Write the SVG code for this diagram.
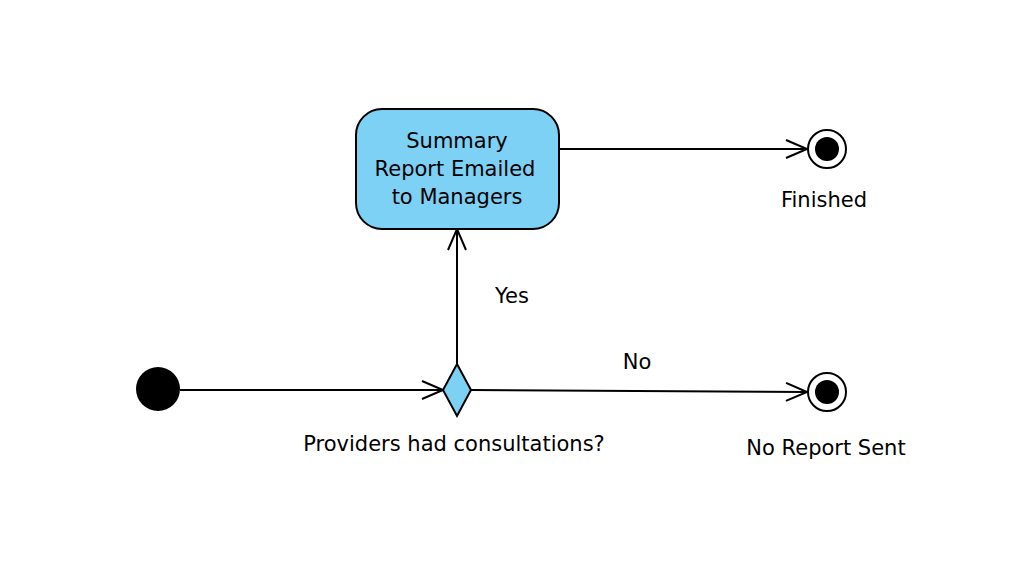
<svg xmlns="http://www.w3.org/2000/svg" width="1030" height="574" viewBox="0 0 1030 574">
<style>
  .lbl { font-family: "DejaVu Sans", "Liberation Sans", sans-serif; font-size: 21px; fill: #000; }
  .edge { stroke: #000; stroke-width: 2; fill: none; }
  .node { fill: #7dd1f4; stroke: #000; stroke-width: 2; }
</style>
<defs>
  <marker id="open" viewBox="0 0 24 20" refX="22" refY="10" markerWidth="24" markerHeight="20" markerUnits="userSpaceOnUse" orient="auto">
    <path d="M1,1 L22,10 L1,19" fill="none" stroke="#000" stroke-width="2"/>
  </marker>
</defs>
<rect width="1030" height="574" fill="#fff"/>
<g id="connectors">
  <line class="edge" x1="180" y1="390" x2="443" y2="390" marker-end="url(#open)"/>
  <line class="edge" x1="457" y1="364" x2="457" y2="229" marker-end="url(#open)"/>
  <line class="edge" x1="559" y1="149" x2="807" y2="149" marker-end="url(#open)"/>
  <line class="edge" x1="471" y1="390" x2="807" y2="392" marker-end="url(#open)"/>
  <text class="lbl" x="512" y="303" text-anchor="middle">Yes</text>
  <text class="lbl" x="637" y="369" text-anchor="middle">No</text>
</g>
<g id="start">
  <circle cx="158" cy="389" r="22" fill="#000"/>
</g>
<g id="summary">
  <rect class="node" x="356" y="109" width="203" height="120" rx="26" ry="26"/>
  <text class="lbl" x="457" y="148" text-anchor="middle">Summary</text>
  <text class="lbl" x="455" y="176" text-anchor="middle">Report Emailed</text>
  <text class="lbl" x="457" y="204" text-anchor="middle">to Managers</text>
</g>
<g id="decision">
  <polygon class="node" points="457,364 471,390 457,416 443,390"/>
  <text class="lbl" x="454" y="451" text-anchor="middle">Providers had consultations?</text>
</g>
<g id="finished">
  <circle cx="827" cy="149" r="19" fill="#fff" stroke="#000" stroke-width="2"/>
  <circle cx="827" cy="149" r="12" fill="#000"/>
  <text class="lbl" x="824" y="207" text-anchor="middle">Finished</text>
</g>
<g id="noreport">
  <circle cx="827" cy="392" r="19" fill="#fff" stroke="#000" stroke-width="2"/>
  <circle cx="827" cy="392" r="12" fill="#000"/>
  <text class="lbl" x="826" y="455" text-anchor="middle">No Report Sent</text>
</g>
</svg>
